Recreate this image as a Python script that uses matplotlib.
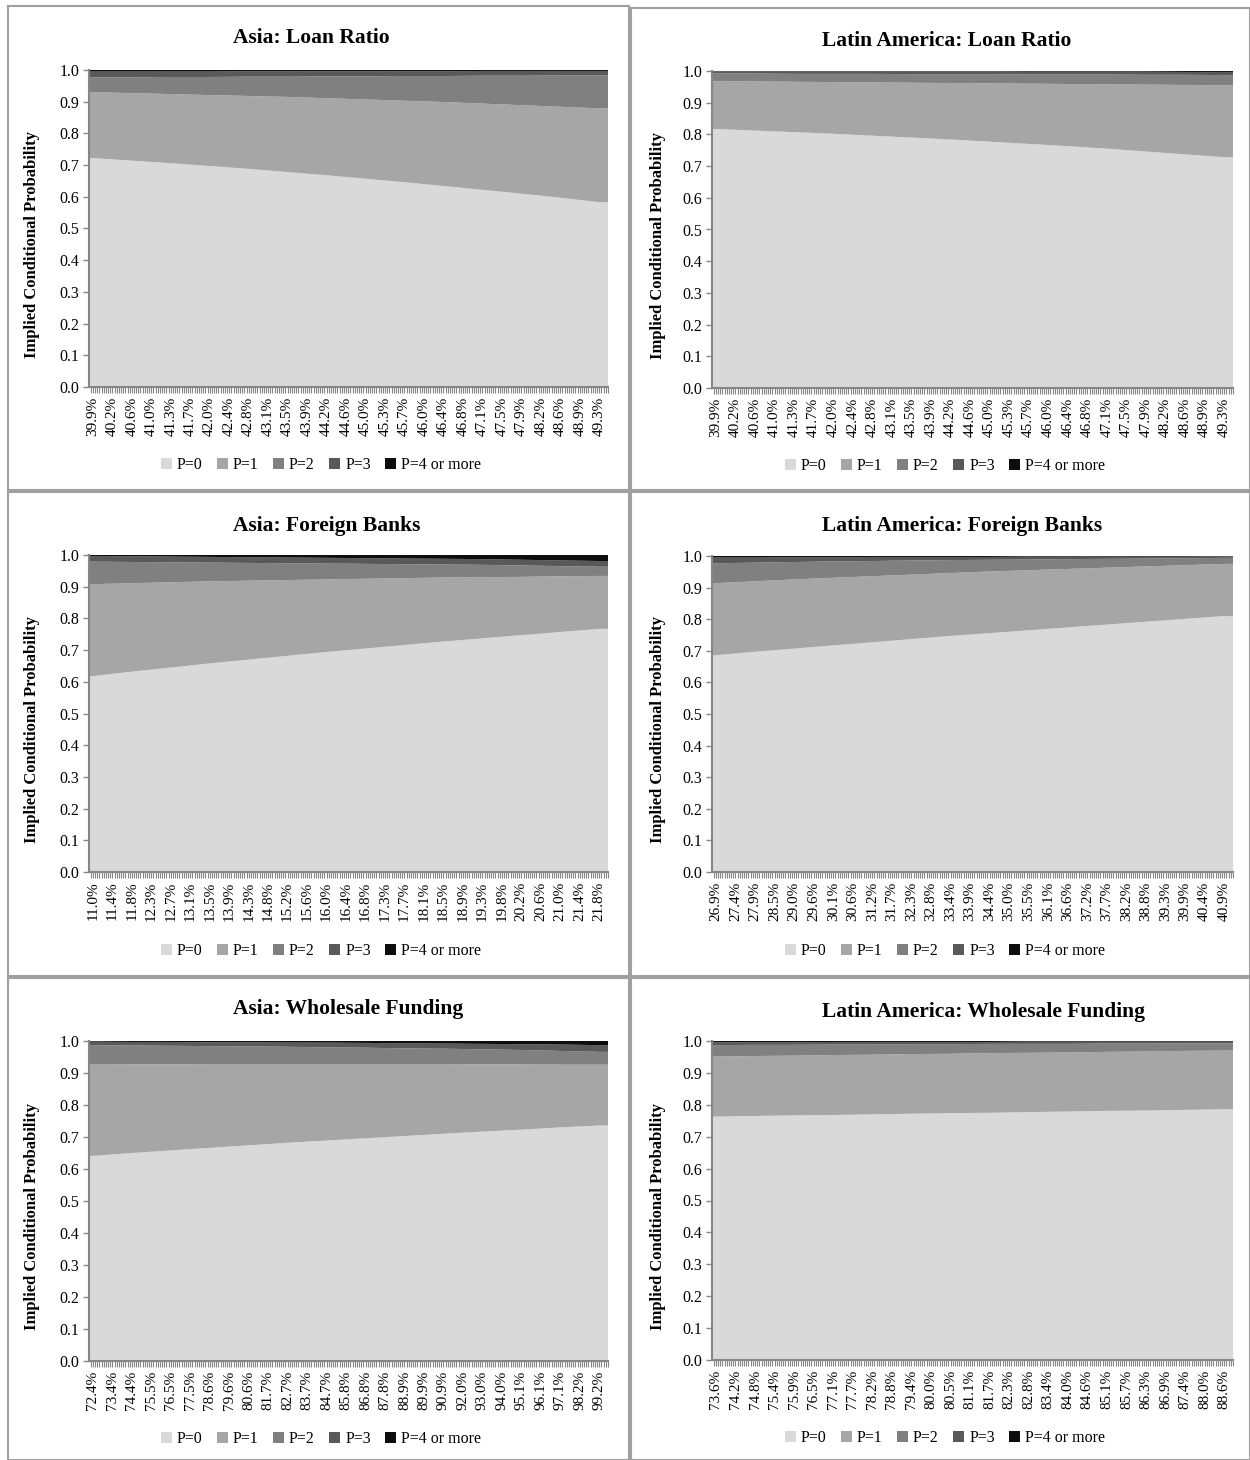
import numpy as np
from matplotlib import pyplot as plt
from matplotlib.ticker import MultipleLocator, FormatStrFormatter
from matplotlib.patches import Rectangle

plt.rcParams['font.family'] = ['Liberation Serif', 'DejaVu Serif']

series_names = ['P=0', 'P=1', 'P=2', 'P=3', 'P=4 or more']
colors = ['#d9d9d9', '#a6a6a6', '#808080', '#595959', '#0d0d0d']

# x category labels (every labelled category)
loan_labels = ['39.9%', '40.2%', '40.6%', '41.0%', '41.3%', '41.7%', '42.0%', '42.4%', '42.8%',
               '43.1%', '43.5%', '43.9%', '44.2%', '44.6%', '45.0%', '45.3%', '45.7%', '46.0%',
               '46.4%', '46.8%', '47.1%', '47.5%', '47.9%', '48.2%', '48.6%', '48.9%', '49.3%']
asia_fb_labels = ['11.0%', '11.4%', '11.8%', '12.3%', '12.7%', '13.1%', '13.5%', '13.9%', '14.3%',
                  '14.8%', '15.2%', '15.6%', '16.0%', '16.4%', '16.8%', '17.3%', '17.7%', '18.1%',
                  '18.5%', '18.9%', '19.3%', '19.8%', '20.2%', '20.6%', '21.0%', '21.4%', '21.8%']
latam_fb_labels = ['26.9%', '27.4%', '27.9%', '28.5%', '29.0%', '29.6%', '30.1%', '30.6%', '31.2%',
                   '31.7%', '32.3%', '32.8%', '33.4%', '33.9%', '34.4%', '35.0%', '35.5%', '36.1%',
                   '36.6%', '37.2%', '37.7%', '38.2%', '38.8%', '39.3%', '39.9%', '40.4%', '40.9%']
asia_wf_labels = ['72.4%', '73.4%', '74.4%', '75.5%', '76.5%', '77.5%', '78.6%', '79.6%', '80.6%',
                  '81.7%', '82.7%', '83.7%', '84.7%', '85.8%', '86.8%', '87.8%', '88.9%', '89.9%',
                  '90.9%', '92.0%', '93.0%', '94.0%', '95.1%', '96.1%', '97.1%', '98.2%', '99.2%']
latam_wf_labels = ['73.6%', '74.2%', '74.8%', '75.4%', '75.9%', '76.5%', '77.1%', '77.7%', '78.2%',
                   '78.8%', '79.4%', '80.0%', '80.5%', '81.1%', '81.7%', '82.3%', '82.8%', '83.4%',
                   '84.0%', '84.6%', '85.1%', '85.7%', '86.3%', '86.9%', '87.4%', '88.0%', '88.6%']

# probabilities read at every second labelled category
asia_loan_p0 = [0.722, 0.714, 0.706, 0.697, 0.688, 0.678, 0.668, 0.657, 0.646, 0.634, 0.622, 0.610, 0.597, 0.583]
asia_loan_p1 = [0.208, 0.213, 0.218, 0.224, 0.230, 0.237, 0.243, 0.250, 0.257, 0.265, 0.272, 0.279, 0.287, 0.296]
asia_loan_p2 = [0.047, 0.050, 0.054, 0.057, 0.061, 0.064, 0.069, 0.073, 0.078, 0.082, 0.088, 0.093, 0.099, 0.104]
asia_loan_p3 = [0.018, 0.018, 0.017, 0.017, 0.017, 0.017, 0.016, 0.016, 0.015, 0.015, 0.015, 0.015, 0.014, 0.014]
asia_loan_p4 = [0.005, 0.005, 0.005, 0.005, 0.004, 0.004, 0.004, 0.004, 0.004, 0.004, 0.003, 0.003, 0.003, 0.003]

latam_loan_p0 = [0.817, 0.812, 0.807, 0.802, 0.796, 0.790, 0.784, 0.777, 0.770, 0.763, 0.755, 0.746, 0.737, 0.728]
latam_loan_p1 = [0.151, 0.155, 0.159, 0.163, 0.168, 0.173, 0.178, 0.184, 0.190, 0.196, 0.203, 0.211, 0.219, 0.227]
latam_loan_p2 = [0.024, 0.025, 0.025, 0.026, 0.027, 0.027, 0.028, 0.029, 0.029, 0.030, 0.031, 0.031, 0.032, 0.032]
latam_loan_p3 = [0.007, 0.007, 0.008, 0.008, 0.008, 0.009, 0.009, 0.009, 0.009, 0.009, 0.009, 0.010, 0.009, 0.010]
latam_loan_p4 = [0.001, 0.001, 0.001, 0.001, 0.001, 0.001, 0.001, 0.001, 0.002, 0.002, 0.002, 0.002, 0.003, 0.003]

asia_fb_p0 = [0.618, 0.632, 0.645, 0.658, 0.670, 0.682, 0.694, 0.705, 0.716, 0.727, 0.737, 0.747, 0.757, 0.767]
asia_fb_p1 = [0.290, 0.279, 0.269, 0.259, 0.249, 0.239, 0.229, 0.220, 0.211, 0.202, 0.193, 0.184, 0.176, 0.167]
asia_fb_p2 = [0.071, 0.067, 0.063, 0.059, 0.056, 0.053, 0.050, 0.047, 0.044, 0.041, 0.039, 0.036, 0.032, 0.029]
asia_fb_p3 = [0.018, 0.018, 0.018, 0.018, 0.018, 0.018, 0.018, 0.018, 0.018, 0.018, 0.018, 0.018, 0.018, 0.018]
asia_fb_p4 = [0.003, 0.004, 0.005, 0.006, 0.007, 0.008, 0.009, 0.010, 0.011, 0.012, 0.013, 0.015, 0.017, 0.019]

latam_fb_p0 = [0.686, 0.697, 0.707, 0.717, 0.727, 0.737, 0.747, 0.756, 0.765, 0.774, 0.783, 0.792, 0.801, 0.810]
latam_fb_p1 = [0.228, 0.223, 0.219, 0.214, 0.209, 0.204, 0.199, 0.195, 0.190, 0.185, 0.180, 0.175, 0.170, 0.165]
latam_fb_p2 = [0.063, 0.059, 0.055, 0.052, 0.048, 0.045, 0.041, 0.037, 0.034, 0.031, 0.028, 0.025, 0.022, 0.019]
latam_fb_p3 = [0.018, 0.016, 0.015, 0.013, 0.013, 0.011, 0.010, 0.009, 0.009, 0.008, 0.007, 0.006, 0.005, 0.005]
latam_fb_p4 = [0.005, 0.005, 0.004, 0.004, 0.003, 0.003, 0.003, 0.003, 0.002, 0.002, 0.002, 0.002, 0.002, 0.001]

asia_wf_p0 = [0.641, 0.650, 0.658, 0.666, 0.674, 0.682, 0.689, 0.696, 0.703, 0.710, 0.717, 0.723, 0.730, 0.736]
asia_wf_p1 = [0.285, 0.277, 0.269, 0.262, 0.254, 0.246, 0.239, 0.232, 0.225, 0.218, 0.210, 0.204, 0.196, 0.190]
asia_wf_p2 = [0.061, 0.059, 0.058, 0.056, 0.055, 0.054, 0.052, 0.051, 0.049, 0.048, 0.047, 0.045, 0.043, 0.040]
asia_wf_p3 = [0.011, 0.011, 0.012, 0.012, 0.013, 0.013, 0.015, 0.015, 0.016, 0.016, 0.017, 0.018, 0.020, 0.021]
asia_wf_p4 = [0.002, 0.003, 0.003, 0.004, 0.004, 0.005, 0.005, 0.006, 0.007, 0.008, 0.009, 0.010, 0.011, 0.013]

latam_wf_p0 = [0.763, 0.765, 0.767, 0.768, 0.770, 0.772, 0.774, 0.775, 0.777, 0.779, 0.781, 0.782, 0.784, 0.786]
latam_wf_p1 = [0.188, 0.188, 0.187, 0.188, 0.187, 0.187, 0.186, 0.187, 0.186, 0.185, 0.185, 0.185, 0.185, 0.184]
latam_wf_p2 = [0.036, 0.035, 0.034, 0.033, 0.032, 0.031, 0.030, 0.029, 0.028, 0.027, 0.026, 0.025, 0.024, 0.023]
latam_wf_p3 = [0.009, 0.008, 0.008, 0.008, 0.008, 0.007, 0.007, 0.006, 0.007, 0.007, 0.006, 0.006, 0.005, 0.005]
latam_wf_p4 = [0.004, 0.004, 0.004, 0.003, 0.003, 0.003, 0.003, 0.003, 0.002, 0.002, 0.002, 0.002, 0.002, 0.002]

W, H = 1250, 1460

# title, labels, series, plot box px (x0, y0, x1, y1), title px, legend px, ylabel x (axes coords)
panels = [
    ('Asia: Loan Ratio', loan_labels,
     [asia_loan_p0, asia_loan_p1, asia_loan_p2, asia_loan_p3, asia_loan_p4],
     (89, 70, 608, 387), (233, 38), (321, 465), -0.094),
    ('Latin America: Loan Ratio', loan_labels,
     [latam_loan_p0, latam_loan_p1, latam_loan_p2, latam_loan_p3, latam_loan_p4],
     (712, 71, 1233, 388), (822, 41), (945, 466), -0.088),
    ('Asia: Foreign Banks', asia_fb_labels,
     [asia_fb_p0, asia_fb_p1, asia_fb_p2, asia_fb_p3, asia_fb_p4],
     (89, 555, 608, 872), (233, 526), (321, 951), -0.094),
    ('Latin America: Foreign Banks', latam_fb_labels,
     [latam_fb_p0, latam_fb_p1, latam_fb_p2, latam_fb_p3, latam_fb_p4],
     (712, 556, 1233, 872), (822, 526), (945, 951), -0.088),
    ('Asia: Wholesale Funding', asia_wf_labels,
     [asia_wf_p0, asia_wf_p1, asia_wf_p2, asia_wf_p3, asia_wf_p4],
     (89, 1041, 608, 1361), (233, 1009), (321, 1439), -0.094),
    ('Latin America: Wholesale Funding', latam_wf_labels,
     [latam_wf_p0, latam_wf_p1, latam_wf_p2, latam_wf_p3, latam_wf_p4],
     (712, 1041, 1233, 1360), (822, 1012), (945, 1438), -0.088),
]

fig = plt.figure(figsize=(W / 100, H / 100), dpi=100)

# panel frames
frames = [(8, 6, 629, 490), (631, 8, 1250, 490), (8, 492, 629, 976),
          (631, 492, 1250, 976), (8, 978, 629, 1460), (631, 978, 1250, 1460)]
for x0, y0, x1, y1 in frames:
    fig.add_artist(Rectangle((x0 / W, 1 - y1 / H), (x1 - x0) / W, (y1 - y0) / H,
                             transform=fig.transFigure, fill=False,
                             edgecolor='#a0a0a0', lw=1.5))

xmin, xmax = -0.2, 26.45
axis_col = '#868686'

for title, labels, series, box, tpos, lpos, ylx in panels:
    x0, y0, x1, y1 = box
    ax = fig.add_axes([x0 / W, 1 - y1 / H, (x1 - x0) / W, (y1 - y0) / H])
    xp = np.arange(len(labels))[::2]
    xf = np.concatenate([[xmin], xp, [xmax]])
    ys = [np.concatenate([[s[0]], s, [s[-1]]]) for s in series]
    polys = ax.stackplot(xf, *ys, colors=colors, labels=series_names, linewidth=0)

    ax.set_xlim(xmin, xmax)
    ax.set_ylim(0, 1.0)
    ax.set_xticks(np.arange(len(labels)))
    ax.set_xticklabels(labels, rotation=90, fontsize=11)
    ax.xaxis.set_minor_locator(MultipleLocator(1 / 9))
    ax.yaxis.set_major_locator(MultipleLocator(0.1))
    ax.yaxis.set_major_formatter(FormatStrFormatter('%.1f'))
    ax.tick_params(axis='y', labelsize=11.5, length=4, color=axis_col, width=1, pad=3)
    ax.tick_params(axis='x', which='both', length=4, color=axis_col, width=0.8, pad=3)
    for sp in ['top', 'right']:
        ax.spines[sp].set_visible(False)
    for sp in ['left', 'bottom']:
        ax.spines[sp].set_color(axis_col)
        ax.spines[sp].set_linewidth(1.5)
    ax.set_ylabel('Implied Conditional Probability', fontsize=12, fontweight='bold')
    ax.yaxis.set_label_coords(ylx, 0.45)

    fig.text(tpos[0] / W, 1 - tpos[1] / H, title, fontsize=15.5, fontweight='bold',
             ha='left', va='center')
    fig.legend(handles=polys, labels=series_names, loc='center',
               bbox_to_anchor=(lpos[0] / W, 1 - lpos[1] / H), ncol=5, frameon=False,
               fontsize=11.5, handlelength=0.7, handleheight=0.7, handletextpad=0.3,
               columnspacing=0.9, borderaxespad=0)

plt.savefig('out.png', dpi=100)
